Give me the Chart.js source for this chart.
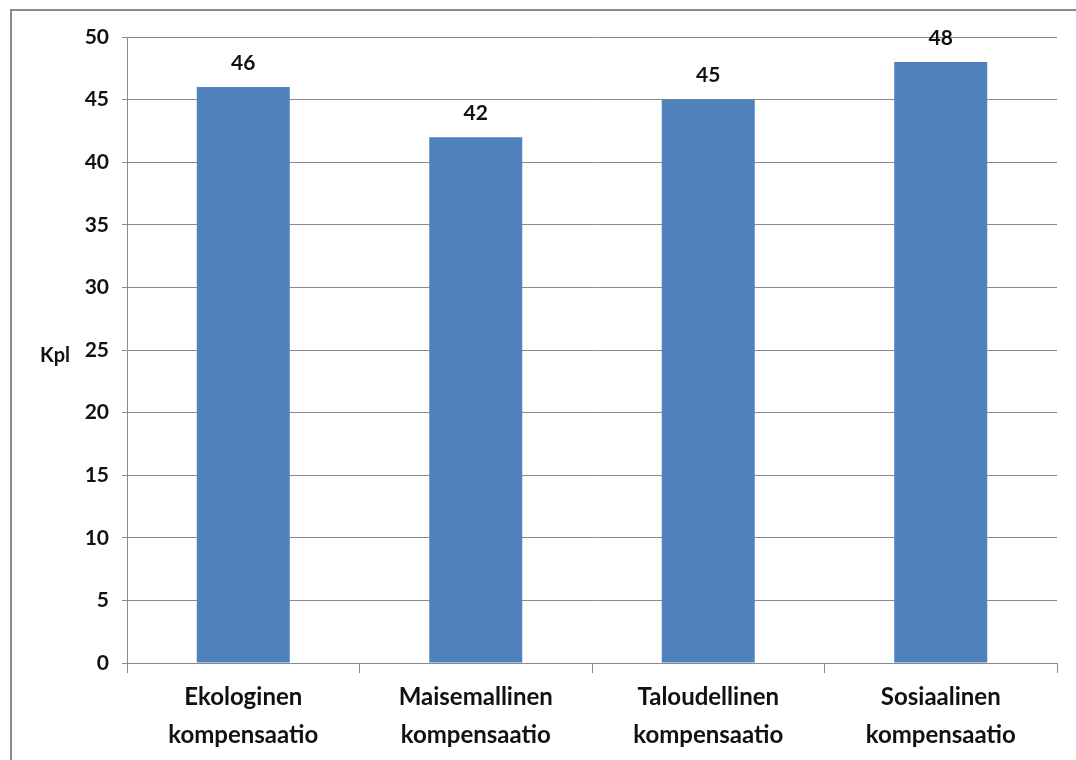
<!DOCTYPE html>
<html>
<head>
<meta charset="utf-8">
<script src="https://cdn.jsdelivr.net/npm/chart.js@4/dist/chart.umd.min.js"></script>
<style>
  body { margin: 0; background: #fff; }
  .frame { position: absolute; left: 10px; top: 9px; width: 1066px; height: 751px; border-top: 2px solid #8a8a8a; border-left: 2px solid #8a8a8a; }
  #kompChart { position: absolute; left: 0; top: 0; }
</style>
</head>
<body>
<div class="frame"></div>
<canvas id="kompChart" width="1076" height="760"></canvas>
<script>
// data
const categories = [
  ['Ekologinen', 'kompensaatio'],
  ['Maisemallinen', 'kompensaatio'],
  ['Taloudellinen', 'kompensaatio'],
  ['Sosiaalinen', 'kompensaatio']
];
const counts = [46, 42, 45, 48];
const yTicks = [0, 5, 10, 15, 20, 25, 30, 35, 40, 45, 50];
const yTitle = 'Kpl';

const fontName = 'Lato, "Open Sans", sans-serif';

// values above the bars + horizontal axis title
const labelPlugin = {
  id: 'labelPlugin',
  afterDatasetsDraw(chart) {
    const ctx = chart.ctx;
    const meta = chart.getDatasetMeta(0);
    ctx.save();
    ctx.fillStyle = '#111';
    ctx.font = 'bold 21px ' + fontName;
    ctx.textAlign = 'center';
    ctx.textBaseline = 'middle';
    meta.data.forEach((bar, i) => {
      ctx.fillText(counts[i], bar.x, bar.y - 24);
    });
    const y = chart.scales.y;
    ctx.font = 'bold 20px ' + fontName;
    ctx.fillText(yTitle, 55, (y.top + y.bottom) / 2 + 6);
    ctx.restore();
  }
};

const ctx = document.getElementById('kompChart').getContext('2d');
const chart = new Chart(ctx, {
  type: 'bar',
  data: {
    labels: categories,
    datasets: [{
      data: counts,
      backgroundColor: '#4F81BD',
      barPercentage: 0.4,
      categoryPercentage: 1
    }]
  },
  plugins: [labelPlugin],
  options: {
    responsive: false,
    maintainAspectRatio: false,
    animation: false,
    devicePixelRatio: 1,
    layout: { padding: { left: 0, top: 37, right: 19, bottom: 0 } },
    plugins: {
      legend: { display: false },
      tooltip: { enabled: false }
    },
    scales: {
      x: {
        afterFit: (scale) => { scale.height = 97; },
        grid: { offset: true, drawOnChartArea: false, color: '#8a8a8a', tickLength: 10 },
        border: { color: '#8a8a8a' },
        ticks: {
          color: '#111',
          font: { family: fontName, size: 24, weight: 'bold', lineHeight: 1.6 },
          padding: 5,
          maxRotation: 0
        }
      },
      y: {
        min: 0,
        max: 50,
        afterFit: (scale) => { scale.width = 127; },
        afterBuildTicks: (scale) => { scale.ticks = yTicks.map(v => ({ value: v })); },
        grid: { color: '#8a8a8a', tickLength: 5 },
        border: { color: '#8a8a8a' },
        ticks: {
          color: '#111',
          font: { family: fontName, size: 21, weight: 'bold' },
          padding: 13
        }
      }
    }
  }
});
</script>
</body>
</html>
